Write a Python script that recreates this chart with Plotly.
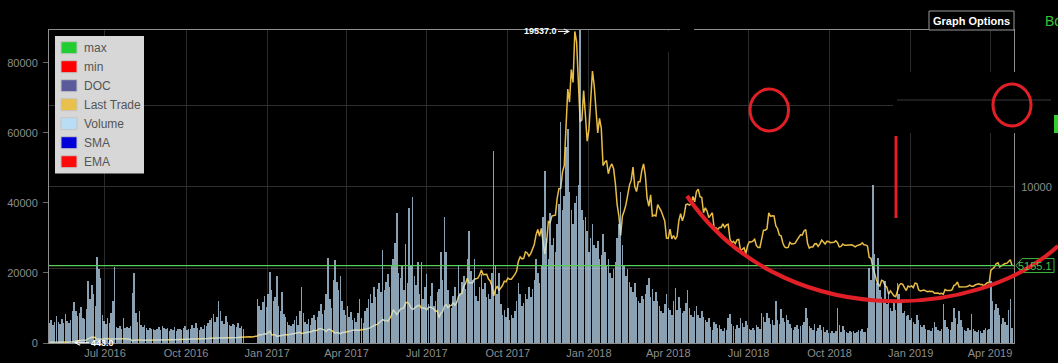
import pandas as pd
import plotly.graph_objects as go

# ---------------- data (2-day sampling, first point 2016-04-29) ----------------
START_DATE = "2016-04-29"

last_trade_usd = [
    443.0, 449, 446, 449, 459, 461, 455, 454, 455, 454, 447, 444, 446, 452, 473,
    525, 532, 537, 575, 585, 580, 577, 670, 690, 760, 755, 735, 590, 660, 630,
    645, 675, 700, 670, 640, 650, 655, 665, 675, 670, 660, 665, 660, 655, 655,
    655, 625, 515, 575, 580, 590, 587, 590, 570, 575, 575, 580, 590, 585, 578,
    570, 575, 575, 600, 610, 610, 625, 620, 610, 607, 607, 610, 610, 600, 605,
    605, 605, 610, 612, 615, 610, 615, 617, 640, 640, 636, 640, 632, 630, 655,
    675, 690, 700, 730, 740, 705, 710, 710, 705, 700, 705, 740, 745, 730, 740,
    740, 735, 745, 760, 770, 770, 755, 760, 770, 780, 775, 790, 790, 830, 915,
    895, 930, 970, 960, 1020, 1135, 895, 905, 905, 810, 820, 830, 880, 895, 925,
    890, 915, 920, 965, 985, 1010, 1035, 1060, 980, 1000, 1010, 1030, 1045, 1050, 1110,
    1175, 1150, 1190, 1270, 1280, 1255, 1190, 1110, 1230, 1240, 1170, 1060, 1020, 1035, 1030,
    965, 1040, 1045, 1085, 1080, 1120, 1145, 1190, 1180, 1210, 1170, 1185, 1205, 1220, 1240,
    1250, 1285, 1340, 1415, 1450, 1520, 1545, 1640, 1710, 1840, 1770, 1800, 1735, 1960, 2100,
    2450, 2300, 2150, 2290, 2480, 2520, 2560, 2860, 2900, 2800, 2560, 2450, 2510, 2620, 2700,
    2720, 2530, 2560, 2540, 2440, 2580, 2610, 2540, 2510, 2330, 2390, 1960, 2230, 2320, 2680,
    2750, 2580, 2680, 2710, 2870, 2720, 2880, 3250, 3420, 3430, 3880, 4060, 4380, 4100, 4100,
    4090, 4320, 4360, 4380, 4580, 4890, 4600, 4590, 4620, 4330, 4210, 3880, 3300, 3690, 3900,
    3630, 3790, 3930, 4200, 4160, 4390, 4310, 4320, 4440, 4610, 4820, 5430, 5690, 5570, 5600,
    6000, 5930, 5740, 5890, 6150, 6450, 7040, 7380, 6960, 7440, 6580, 5880, 6600, 7860, 7790,
    8200, 8230, 8250, 9300, 9880, 9900, 10900, 11300, 13700, 16000, 15200, 17200, 16400, 19537.0, 18900,
    16600, 14000, 14100, 15900, 14400, 12800, 13500, 15100, 17100, 16200, 14900, 13300, 14200, 13600, 11300,
    11500, 11600, 10800, 11200, 11400, 11100, 10200, 8900, 8200, 7000, 8200, 8500, 8900, 9500, 10100,
    10400, 11200, 10000, 9700, 10300, 10300, 11000, 11400, 10700, 9300, 8800, 9500, 8200, 8250, 8200,
    8900, 8700, 8500, 8200, 7900, 6850, 6830, 7400, 6800, 7000, 6770, 6950, 7900, 8350, 7900,
    8250, 8900, 8930, 8870, 8950, 9400, 9070, 9700, 9850, 9380, 9330, 8400, 8700, 8500, 8100,
    8240, 8400, 7500, 7480, 7350, 7500, 7500, 7720, 7500, 7650, 7690, 6780, 6550, 6640, 6500,
    6730, 6760, 6060, 6160, 6250, 5880, 6390, 6620, 6600, 6660, 6770, 6380, 6260, 6270, 6730,
    7330, 7330, 7410, 8400, 8180, 8220, 8200, 7600, 7420, 7030, 6980, 6540, 6300, 6250, 6270,
    6580, 6480, 6490, 6530, 6720, 6900, 7050, 7030, 7280, 7370, 6530, 6230, 6300, 6300, 6480,
    6500, 6330, 6490, 6720, 6600, 6480, 6640, 6630, 6560, 6570, 6590, 6680, 6560, 6300, 6330,
    6480, 6400, 6400, 6410, 6420, 6430, 6380, 6300, 6380, 6400, 6450, 6550, 6430, 6420, 6350,
    5650, 5600, 5080, 4620, 4300, 4010, 3900, 4250, 4200, 3920, 3830, 3400, 3600, 3450, 3300,
    3250, 3550, 3950, 4050, 4000, 3800, 3620, 3900, 3850, 3910, 3800, 4080, 4050, 3670, 3600,
    3620, 3650, 3600, 3550, 3580, 3580, 3570, 3450, 3480, 3470, 3420, 3450, 3400, 3680, 3630,
    3620, 3620, 3680, 3930, 3980, 4150, 3840, 3840, 3850, 3830, 3860, 3880, 3950, 3880, 3880,
    3960, 3990, 4030, 3990, 3990, 3920, 4050, 4110, 4100, 4880, 4960, 5060, 5270, 5330, 5070,
    5140, 5220, 5280, 5290, 5380, 5520, 5155.1,
]

volume_thousands = [
    5.8, 6.5, 5.2, 6.0, 7.6, 5.9, 5.4, 6.8, 5.6, 8.4, 6.3, 5.7, 6.6, 9.2, 11.6,
    9.0, 7.8, 8.5, 10.4, 7.2, 6.9, 9.8, 17.8, 12.5, 16.6, 14.0, 10.5, 24.6, 21.2, 18.7,
    8.0, 6.2, 5.4, 7.0, 5.8, 8.5, 12.0, 21.8, 4.6, 4.2, 4.8, 4.0, 7.0, 4.3, 4.5,
    4.2, 4.8, 14.2, 20.0, 8.5, 6.0, 9.0, 5.2, 4.5, 5.0, 4.2, 3.8, 4.4, 3.9, 4.1,
    3.6, 4.0, 4.5, 3.7, 4.8, 4.2, 3.9, 4.4, 3.5, 4.0, 3.8, 4.6, 3.4, 3.9, 4.1,
    3.8, 4.3, 4.9, 3.6, 4.1, 3.9, 5.0, 4.4, 5.6, 4.2, 3.7, 4.5, 4.0, 5.2, 4.8,
    5.8, 6.5, 7.2, 8.4, 6.0, 7.5, 12.0, 9.0, 6.2, 5.5, 7.8, 6.0, 5.2, 4.8, 5.5,
    5.0, 4.6, 5.8, 4.2, 4.8, 3.9, None, None, None, None, None, None, None, 12.6, 10.5,
    9.5, 11.8, 13.5, 10.2, 14.0, 20.4, 15.0, 12.0, 13.2, 19.2, 10.5, 9.0, 14.5, 8.2, 7.5,
    6.0, 5.2, 4.8, 5.5, 6.5, 7.8, 5.2, 9.0, 16.0, 8.5, 6.0, 5.5, 6.8, 5.0, 7.2,
    8.0, 6.5, 7.5, 9.0, 11.0, 8.2, 9.5, 14.0, 24.4, 12.5, 10.0, 18.0, 23.7, 17.5, 15.0,
    19.0, 12.0, 9.5, 8.0, 10.5, 7.5, 8.8, 6.5, 7.2, 6.0, 8.5, 12.5, 7.0, 5.8, 9.0,
    10.0, 12.5, 14.0, 11.5, 16.0, 13.0, 15.5, 17.0, 14.5, 26.6, 15.0, 17.5, 19.7, 16.0, 22.0,
    24.0, 28.6, 37.0, 20.0, 18.5, 22.0, 15.0, 28.4, 17.0, 38.7, 22.0, 41.8, 19.0, 16.5, 23.0,
    14.0, 23.0, 12.5, 16.0, 19.7, 11.0, 13.5, 17.0, 10.5, 12.0, 14.5, 15.5, 26.0, 18.0, 36.0,
    26.0, 15.0, 11.0, 10.0, 13.5, 16.0, 12.0, 22.0, 14.0, 17.5, 19.0, 15.5, 24.0, 32.0, 20.5,
    18.0, 24.0, 13.5, 12.0, 16.0, 19.7, 15.5, 17.0, 13.0, 14.0, 12.5, 20.0, 54.7, 22.0, 14.0,
    20.0, 11.0, 8.0, 9.5, 7.5, 10.0, 6.5, 8.0, 7.0, 9.0, 12.0, 17.0, 14.0, 10.5, 11.5,
    14.0, 12.5, 16.0, 13.0, 15.5, 18.0, 24.0, 20.0, 17.0, 22.0, 36.0, 49.0, 30.0, 24.0, 37.0,
    28.0, 30.0, 26.0, 34.0, 39.8, 63.0, 38.0, 42.0, 56.0, 61.0, 43.0, 38.0, 34.0, 40.0, 42.0,
    45.0, 92.0, 38.0, 35.0, 36.0, 32.0, 26.0, 30.0, 34.0, 28.0, 27.0, 29.0, 24.0, 25.0, 31.0,
    26.0, 22.0, 24.0, 20.0, 18.5, 21.0, 23.0, 30.0, 34.0, 43.0, 28.0, 22.0, 19.0, 21.0, 17.5,
    16.0, 14.5, 17.0, 13.0, 12.0, 11.5, 13.5, 12.5, 14.0, 16.5, 18.7, 13.0, 15.5, 12.0, 14.5,
    12.0, 10.5, 9.0, 8.5, 11.0, 14.0, 10.0, 9.5, 8.0, 12.0, 15.8, 9.5, 13.0, 10.0, 8.5,
    9.0, 11.5, 15.0, 10.0, 8.0, 7.5, 9.0, 10.5, 8.0, 7.0, 9.2, 7.5, 6.5, 6.0, 7.0,
    4.5, 3.8, 6.0, 5.5, 4.2, 5.0, 4.0, 3.5, 4.4, 3.8, 7.0, 8.4, 5.5, 4.8, 4.0,
    5.0, 4.2, 7.0, 5.8, 4.5, 6.2, 5.0, 4.0, 3.6, 4.4, 3.8, 5.2, 4.6, 3.9, 8.7,
    7.5, 6.0, 8.7, 7.0, 5.5, 6.5, 5.0, 12.0, 6.5, 5.5, 9.8, 7.0, 6.0, 8.0, 6.5,
    5.5, 4.2, 3.8, 4.5, 5.0, 4.0, 4.8, 5.2, 6.0, 10.0, 7.0, 4.8, 4.2, 3.8, 5.5,
    3.5, 4.2, 5.0, 3.8, 4.5, 3.2, 3.6, 3.0, 2.8, 3.4, 2.9, 3.5, 10.0, 5.0, 3.2,
    4.8, 3.6, 3.2, 3.0, 3.4, 3.1, 3.3, 2.9, 3.2, 3.6, 3.4, 4.0, 3.2, 3.1, 4.2,
    21.5, 18.0, 45.0, 25.5, 17.0, 24.4, 15.0, 13.0, 12.0, 17.8, 11.0, 14.5, 10.0, 9.0, 12.0,
    9.5, 17.2, 14.0, 12.0, 8.5, 9.0, 7.7, 8.0, 6.5, 7.2, 6.0, 5.5, 8.0, 6.5, 5.0,
    4.5, 5.0, 4.0, 3.6, 3.8, 3.5, 4.2, 6.0, 4.5, 3.8, 3.5, 4.0, 11.2, 6.5, 4.5,
    4.0, 3.8, 6.0, 10.0, 7.0, 5.5, 9.0, 6.5, 4.5, 3.8, 3.5, 4.2, 3.6, 8.4, 4.0,
    3.5, 3.2, 3.8, 3.4, 3.0, 3.6, 4.2, 3.8, 4.0, 17.8, 12.0, 9.5, 11.0, 10.0, 8.0,
    5.5, 7.0, 6.0, 5.0, 9.5, 12.6, 4.4,
]

min_trade = 443.0
max_trade = 19537.0
current_trade = 5155.1

volume_ticks = [0, 20000, 40000, 60000, 80000]
price_ticks = [5000, 10000, 15000]
price_tick_text = ["", "10000", ""]

legend_labels = ["max", "min", "DOC", "Last Trade", "Volume", "SMA", "EMA"]
legend_colors = ["#22cc33", "#ff0000", "#5b5b9b", "#e9c04a", "#b9ddf5", "#0000d8", "#ff0a0a"]

# ---------------- build ----------------
n = min(len(last_trade_usd), len(volume_thousands))
dates = pd.date_range(START_DATE, periods=n, freq="2D")
price = last_trade_usd[:n]
volume = [None if v is None else v * 1000 for v in volume_thousands[:n]]

FONT = "Liberation Sans, Arial, sans-serif"
W_FIG, H_FIG = 1058, 363
L, R, T, B = 49, 1014, 30, 343


def px(x):
    return (x - L) / (R - L)


def py(y):
    return (B - y) / (B - T)


fig = go.Figure()
fig.add_trace(go.Scatter(x=dates, y=price, mode="lines", name="Last Trade",
                         line=dict(color="#e8bd45", width=1.5), yaxis="y",
                         hoverinfo="skip"))
fig.add_trace(go.Bar(x=dates, y=volume, name="Volume", yaxis="y2",
                     width=2 * 86400000 * 0.86,
                     marker=dict(color="rgba(196,230,255,0.70)", line=dict(width=0)),
                     hoverinfo="skip"))

shapes = []


def rect(x0, y0, x1, y1, fill, line_color=None, lw=0):
    shapes.append(dict(type="rect", xref="paper", yref="paper",
                       x0=px(x0), x1=px(x1), y0=py(y1), y1=py(y0),
                       fillcolor=fill, line=dict(color=line_color or fill, width=lw),
                       layer="above"))


def seg(x0, y0, x1, y1, color, w):
    shapes.append(dict(type="line", xref="paper", yref="paper",
                       x0=px(x0), x1=px(x1), y0=py(y0), y1=py(y1),
                       line=dict(color=color, width=w), layer="above"))


# blacked-out patches of the original screenshot
rect(680, 25, 694, 35, "black")
rect(664, 31, 673, 52, "black")
rect(893, 72, 1022, 133, "black")
seg(897, 100, 1051, 100, "#3a3a3a", 1)

# current price level line
shapes.append(dict(type="line", xref="paper", yref="y", x0=0, x1=1,
                   y0=current_trade, y1=current_trade,
                   line=dict(color="#55d055", width=1.2), layer="above"))

# current price tag
tag_y = 349.5 - current_trade * 0.01628
shapes.append(dict(type="path", xref="paper", yref="paper",
                   path=(f"M {px(1016)},{py(tag_y)} L {px(1022)},{py(tag_y - 7)} "
                         f"L {px(1054)},{py(tag_y - 7)} L {px(1054)},{py(tag_y + 7)} "
                         f"L {px(1022)},{py(tag_y + 7)} Z"),
                   fillcolor="black", line=dict(color="#3fb83f", width=1), layer="above"))

# graph options box and green side box
rect(929, 11, 1014, 30, "black", "#9a9a9a", 1)
rect(1054, 115, 1062, 133, "#33cc33")

# legend box
rect(55, 36, 144, 173.5, "#d7d7d7")
leg_y = [47.7 + 19 * i for i in range(len(legend_labels))]
for yc, col in zip(leg_y, legend_colors):
    rect(61, yc - 6, 77, yc + 6, col, "#c4c4c4", 1)

# hand-drawn red marks
RED = "#e11f27"
shapes.append(dict(type="circle", xref="paper", yref="paper",
                   x0=px(750), x1=px(788.5), y0=py(131), y1=py(89),
                   line=dict(color=RED, width=3), layer="above"))
shapes.append(dict(type="circle", xref="paper", yref="paper",
                   x0=px(993), x1=px(1031), y0=py(126), y1=py(84),
                   line=dict(color=RED, width=3), layer="above"))
seg(896, 136, 896, 218, RED, 3)
shapes.append(dict(type="path", xref="paper", yref="paper",
                   path=(f"M {px(687)},{py(196)} C {px(780)},{py(332)} "
                         f"{px(975)},{py(322)} {px(1058)},{py(246)}"),
                   fillcolor="rgba(0,0,0,0)", line=dict(color=RED, width=4), layer="above"))

annotations = []
for yc, lab in zip(leg_y, legend_labels):
    annotations.append(dict(x=px(82), y=py(yc), xref="paper", yref="paper",
                            xanchor="left", yanchor="middle", showarrow=False,
                            text=lab, font=dict(family=FONT, size=12, color="#555555")))

annotations.append(dict(x=px(570), y=max_trade, xref="paper", yref="y",
                        text=f"<b>{max_trade:.1f}</b>", showarrow=True,
                        ax=-30, ay=0, axref="pixel", ayref="pixel",
                        arrowhead=5, arrowsize=1, arrowwidth=1, arrowcolor="white",
                        font=dict(family=FONT, size=9, color="white")))
annotations.append(dict(x=px(74), y=py(342.7), xref="paper", yref="paper",
                        text=f"<b>{min_trade:.1f}</b>", showarrow=True,
                        ax=28, ay=0, axref="pixel", ayref="pixel",
                        arrowhead=5, arrowsize=1, arrowwidth=1, arrowcolor="white",
                        font=dict(family=FONT, size=9, color="white")))
annotations.append(dict(x=px(1035), y=current_trade, xref="paper", yref="y",
                        xanchor="center", yanchor="middle",
                        text=f"{current_trade:.1f}", showarrow=False,
                        font=dict(family=FONT, size=11, color="#44c044")))
annotations.append(dict(x=px(971.5), y=py(20.5), xref="paper", yref="paper",
                        xanchor="center", yanchor="middle",
                        text="<b>Graph Options</b>", showarrow=False,
                        font=dict(family=FONT, size=11, color="white")))
annotations.append(dict(x=px(1043), y=py(21.5), xref="paper", yref="paper",
                        xanchor="left", yanchor="middle", text="Bo", showarrow=False,
                        font=dict(family=FONT, size=14, color="#33c633")))

fig.update_layout(
    width=W_FIG, height=H_FIG,
    margin=dict(l=L, r=W_FIG - R, t=T, b=H_FIG - B, pad=0, autoexpand=False),
    paper_bgcolor="black", plot_bgcolor="black",
    font=dict(family=FONT, size=11, color="#8c8c8c"),
    showlegend=False, bargap=0,
    xaxis=dict(type="date",
               range=["2016-04-28 12:00", "2019-04-28 05:00"],
               tickformat="%b %Y", dtick="M3", tick0="2016-01-01",
               showgrid=True, gridcolor="#2a2a2a", gridwidth=1,
               showline=True, linecolor="#8f8f8f", linewidth=1, mirror=True,
               ticks="", zeroline=False, automargin=False,
               tickfont=dict(family=FONT, size=11, color="#8c8c8c")),
    yaxis=dict(side="right", range=[400, 19625],
               tickvals=price_ticks, ticktext=price_tick_text,
               showgrid=True, gridcolor="#2e2e2e", gridwidth=1,
               showline=True, linecolor="#8f8f8f", linewidth=1, mirror=True,
               ticks="", zeroline=False, automargin=False, ticklabelstandoff=4,
               tickfont=dict(family=FONT, size=11, color="#8c8c8c")),
    yaxis2=dict(overlaying="y", side="left", range=[0, 89400],
                tickvals=volume_ticks, tickformat="d", showgrid=False, showline=False,
                ticks="outside", ticklen=5, tickcolor="#6a6a6a",
                zeroline=False, automargin=False, ticklabelstandoff=3,
                tickfont=dict(family=FONT, size=11, color="#8c8c8c")),
    shapes=shapes,
    annotations=annotations,
)

fig.write_html(
    "out.html",
    config={"displayModeBar": False},
    post_script="document.body.style.margin='0';document.body.style.padding='0';"
                "document.body.style.background='black';",
)
